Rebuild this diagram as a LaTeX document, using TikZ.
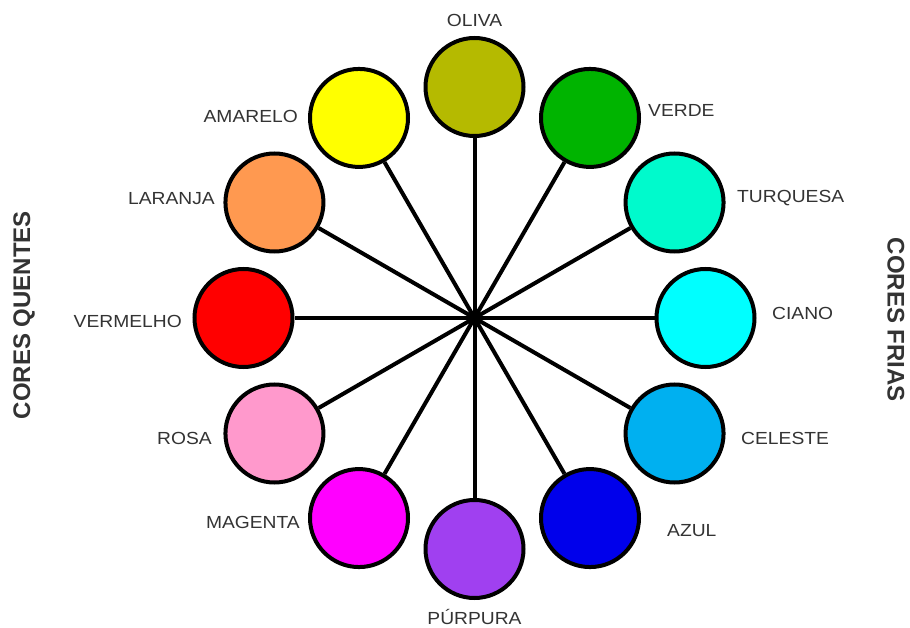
\documentclass[tikz,border=0pt]{standalone}
\usepackage{fontspec}
\setmainfont{Liberation Sans}
\usetikzlibrary{calc}
\definecolor{txt}{HTML}{333333}
\definecolor{coliva}{RGB}{181,186,0}
\definecolor{cverde}{RGB}{0,180,0}
\definecolor{cturq}{RGB}{0,250,204}
\definecolor{cciano}{RGB}{0,255,255}
\definecolor{cceleste}{RGB}{0,176,240}
\definecolor{cazul}{RGB}{0,0,235}
\definecolor{cpurp}{RGB}{160,64,240}
\definecolor{cmag}{RGB}{255,0,255}
\definecolor{crosa}{RGB}{255,153,204}
\definecolor{cverm}{RGB}{255,0,0}
\definecolor{clar}{RGB}{255,153,80}
\definecolor{camar}{RGB}{255,255,0}
\begin{document}
\begin{tikzpicture}[x=1pt,y=1pt,
  dot/.style={circle,draw=black,line width=4pt,minimum size=98pt,inner sep=0pt},
  spoke/.style={line width=4pt,black},
  lbl/.style={text=txt,font=\fontsize{17.5}{20}\selectfont,inner sep=0pt,xscale=1.1},
  side/.style={text=txt,font=\fontsize{24}{26}\selectfont\bfseries,inner sep=0pt}]
\useasboundingbox (0,0) rectangle (910,627);
\coordinate (c) at (474.5,309);
\node[dot,fill=coliva]   (oliva)   at ($(c)+(90:231)$) {};
\node[dot,fill=cverde]   (verde)   at ($(c)+(60:231)$) {};
\node[dot,fill=cturq]    (turq)    at ($(c)+(30:231)$) {};
\node[dot,fill=cciano]   (ciano)   at ($(c)+(0:231)$) {};
\node[dot,fill=cceleste] (celeste) at ($(c)+(-30:231)$) {};
\node[dot,fill=cazul]    (azul)    at ($(c)+(-60:231)$) {};
\node[dot,fill=cpurp]    (purp)    at ($(c)+(-90:231)$) {};
\node[dot,fill=cmag]     (mag)     at ($(c)+(-120:231)$) {};
\node[dot,fill=crosa]    (rosa)    at ($(c)+(-150:231)$) {};
\node[dot,fill=cverm]    (verm)    at ($(c)+(180:231)$) {};
\node[dot,fill=clar]     (lar)     at ($(c)+(150:231)$) {};
\node[dot,fill=camar]    (amar)    at ($(c)+(120:231)$) {};
\foreach \n in {oliva,verde,turq,ciano,celeste,azul,purp,mag,rosa,verm,lar,amar}
  \draw[spoke] (c) -- (\n);
\node[lbl] (loliva) at (474.5,607) {OLIVA};
\node[lbl,anchor=west] (lverde) at (648,517) {VERDE};
\node[lbl,anchor=west] (lturq) at (737,429) {TURQUESA};
\node[lbl,anchor=west] (lciano) at (772,314) {CIANO};
\node[lbl,anchor=west] (lceleste) at (741,189) {CELESTE};
\node[lbl,anchor=west] (lazul) at (667,96) {AZUL};
\node[lbl] (lpurp) at (474.5,10) {PÚRPURA};
\node[lbl,anchor=east] (lmag) at (300,105) {MAGENTA};
\node[lbl,anchor=east] (lrosa) at (212,189) {ROSA};
\node[lbl,anchor=east] (lverm) at (182,306) {VERMELHO};
\node[lbl,anchor=east] (llar) at (215,428) {LARANJA};
\node[lbl,anchor=east] (lamar) at (298,511) {AMARELO};
\node[side,rotate=90] (quentes) at (24,312) {CORES QUENTES};
\node[side,rotate=-90] (frias) at (896,307) {CORES FRIAS};
\end{tikzpicture}
\end{document}
